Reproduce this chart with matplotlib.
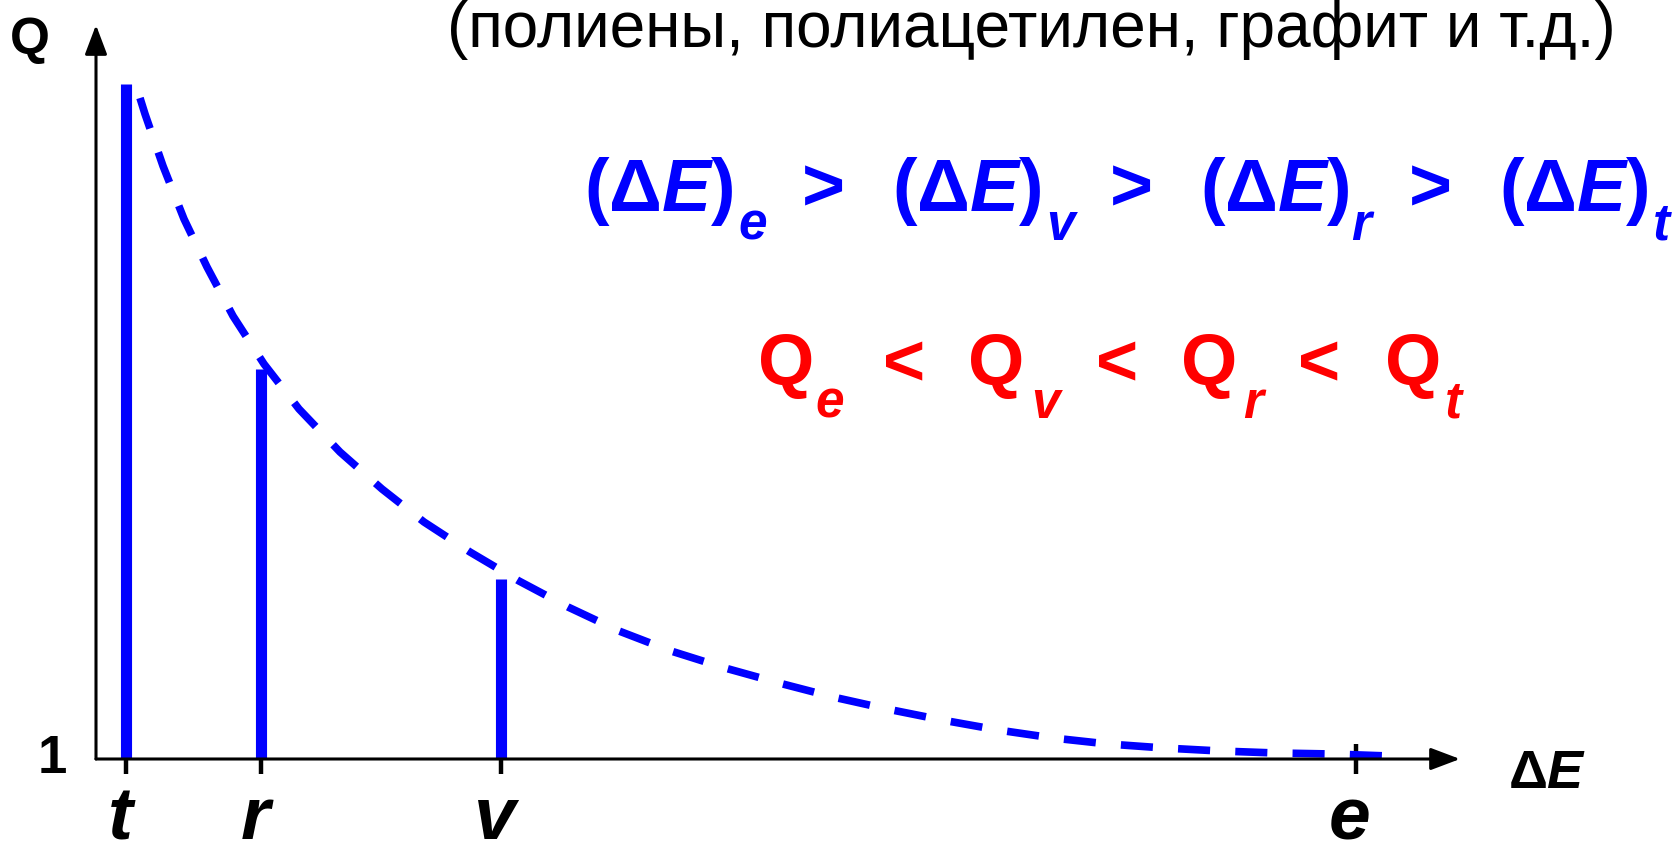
import matplotlib
matplotlib.use('Agg')
import matplotlib.pyplot as plt

# level positions on the dE axis (arbitrary units) and Q heights of the bars
levels = ['t', 'r', 'v', 'e']
level_x = [0.30, 1.65, 4.05, 12.60]
bar_q = [7.75, 4.90, 2.80]

# dashed envelope Q(dE)
curve_x = [0.44, 0.49, 0.67, 0.88, 1.11, 1.37, 1.68, 2.03, 2.44, 2.86, 3.28,
           3.74, 4.23, 4.72, 5.23, 5.75, 6.29, 6.83, 7.37, 7.91, 8.46, 9.02,
           9.57, 10.12, 10.68, 11.24, 11.80, 12.36, 12.93]
curve_q = [7.61, 7.45, 6.93, 6.40, 5.92, 5.43, 4.95, 4.50, 4.07, 3.70, 3.37,
           3.07, 2.78, 2.52, 2.28, 2.08, 1.91, 1.76, 1.62, 1.50, 1.39, 1.29,
           1.21, 1.15, 1.11, 1.08, 1.06, 1.05, 1.03]

# inequality pieces: main symbol, subscript
subs = ['e', 'v', 'r', 't']
blue_x = [4.88, 7.96, 11.04, 14.03]
blue_sub_x = [6.42, 9.50, 12.55, 15.57]
gt_x = [7.06, 10.14, 13.13]
red_x = [6.62, 8.72, 10.85, 12.89]
red_sub_x = [7.19, 9.35, 11.47, 13.49]
lt_x = [7.87, 10.00, 12.02]

plt.rcParams['font.family'] = ['Liberation Sans', 'DejaVu Sans']
plt.rcParams['mathtext.fontset'] = 'custom'
plt.rcParams['mathtext.rm'] = 'Liberation Sans:bold'
plt.rcParams['mathtext.bf'] = 'Liberation Sans:bold'
plt.rcParams['mathtext.it'] = 'Liberation Sans:italic:bold'

fig = plt.figure(figsize=(16.73, 8.41), dpi=100)
ax = fig.add_axes([0, 0, 1, 1])
ax.set_xlim(-0.96, 15.77)
ax.set_ylim(0.18, 8.59)
ax.axis('off')

# axes with arrows
arrow = dict(arrowstyle='-|>,head_length=0.45,head_width=0.17', color='black',
             lw=2.2, mutation_scale=40, shrinkA=0, shrinkB=0)
ax.annotate('', xy=(13.64, 1.0), xytext=(0.0, 1.0), arrowprops=arrow)
ax.annotate('', xy=(0.0, 8.34), xytext=(0.0, 1.0), arrowprops=arrow)

# ticks under the axis (e tick crosses it)
for i, x in enumerate(level_x):
    top = 1.15 if levels[i] == 'e' else 1.0
    ax.plot([x, x], [0.85, top], color='black', lw=3.2, solid_capstyle='butt')

# bars
ax.vlines(level_x[:3], 1.0, bar_q, color='#0000FF', lw=8, capstyle='butt')

# dashed envelope
ax.plot(curve_x, curve_q, color='#0000FF', lw=5.5, linestyle=(0, (4.2, 3.3)),
        dash_capstyle='butt')

# labels
for x, name in zip(level_x, levels):
    ax.text(x - 0.06, 0.20, name, fontsize=54, fontweight='bold', fontstyle='italic',
            ha='center', va='baseline')
ax.text(-0.44, 0.86, '1', fontsize=38, fontweight='bold', ha='center', va='baseline')
ax.text(-0.86, 8.05, 'Q', fontsize=37, fontweight='bold', ha='left', va='baseline')
ax.text(14.12, 0.71, r'$\Delta E$', fontsize=39, ha='left', va='baseline')

ax.text(9.35, 8.12, '(полиены, полиацетилен, графит и т.д.)', fontsize=46,
        ha='center', va='baseline')

# (dE)_e > (dE)_v > (dE)_r > (dE)_t
for x, xs, s in zip(blue_x, blue_sub_x, subs):
    ax.text(x, 6.48, r'$(\Delta E)$', fontsize=53, color='#0000FF', ha='left', va='baseline')
    ax.text(xs, 6.19, s, fontsize=37, color='#0000FF', fontweight='bold',
            fontstyle='italic', ha='left', va='baseline')
for x in gt_x:
    ax.text(x, 6.48, '>', fontsize=53, color='#0000FF', fontweight='bold',
            ha='left', va='baseline')

# Q_e < Q_v < Q_r < Q_t
for x, xs, s in zip(red_x, red_sub_x, subs):
    ax.text(x, 4.74, 'Q', fontsize=52, color='#FF0000', fontweight='bold',
            ha='left', va='baseline')
    ax.text(xs, 4.41, s, fontsize=37, color='#FF0000', fontweight='bold',
            fontstyle='italic', ha='left', va='baseline')
for x in lt_x:
    ax.text(x, 4.74, '<', fontsize=52, color='#FF0000', fontweight='bold',
            ha='left', va='baseline')

fig.savefig('out.png', dpi=100)
